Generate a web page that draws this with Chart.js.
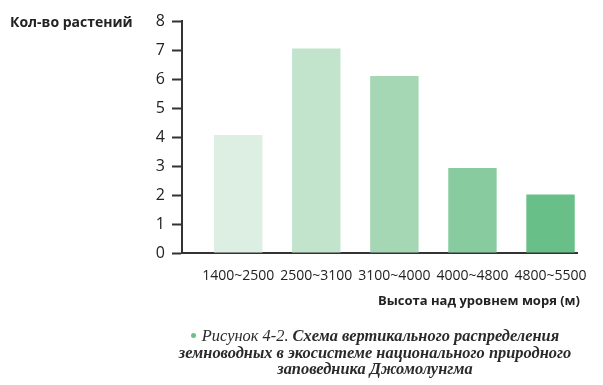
<!DOCTYPE html>
<html lang="ru">
<head>
<meta charset="UTF-8">
<title>Высота над уровнем моря</title>
<script src="https://cdn.jsdelivr.net/npm/chart.js"></script>
<style>
  body { margin: 0; background: #fff; }
  .wrap { position: relative; width: 603px; height: 385px; }
  #chart { position: absolute; left: 0; top: 0; }
  .caption {
    position: absolute; left: 175px; top: 328px; width: 400px;
    text-align: center; font-family: "Liberation Serif", serif; font-style: italic;
    font-size: 16.4px; line-height: 16.5px; color: #2a2a2a;
  }
  .caption b { font-weight: bold; }
  .dot { display: inline-block; width: 5px; height: 5px; border-radius: 50%; background: #6cbf8a; vertical-align: middle; margin-right: 6px; position: relative; top: -2px; }
</style>
</head>
<body>
<div class="wrap">
  <canvas id="chart" width="603" height="385"></canvas>
  <div class="caption"><span class="dot"></span>Рисунок 4-2. <b>Схема вертикального распределения земноводных в экосистеме национального природного заповедника Джомолунгма</b></div>
</div>
<script>
const heights = ['1400~2500', '2500~3100', '3100~4000', '4000~4800', '4800~5500'];
const plants = [4.07, 7.05, 6.1, 2.93, 2.02];
const barColors = ['#ddefe2', '#c2e4cd', '#a5d7b4', '#88cb9f', '#68bf87'];
const yTitle = 'Кол-во растений';
const xTitle = 'Высота над уровнем моря (м)';

const ink = '#333';
const sans = '"Open Sans", sans-serif';

// axis titles sit outside the scales, so draw them by hand
const titles = {
  id: 'titles',
  afterDraw(chart) {
    const c = chart.ctx;
    c.save();
    c.fillStyle = '#222';
    c.textBaseline = 'middle';
    c.font = 'bold 14px ' + sans;
    c.textAlign = 'left';
    c.fillText(yTitle, 10, 23);
    c.font = 'bold 13px ' + sans;
    c.textAlign = 'right';
    c.fillText(xTitle, 580, 301);
    c.restore();
  }
};

new Chart(document.getElementById('chart'), {
  type: 'bar',
  data: {
    datasets: [{
      data: plants.map((v, i) => ({ x: i, y: v })),
      backgroundColor: barColors,
      barPercentage: 0.62,
      categoryPercentage: 1
    }]
  },
  options: {
    responsive: false,
    animation: false,
    layout: { padding: { left: 0, right: 21, top: 21, bottom: 0 } },
    plugins: { legend: { display: false }, tooltip: { enabled: false } },
    scales: {
      x: {
        type: 'linear',
        offset: false,
        min: -0.72,
        max: 4.35,
        afterBuildTicks: s => { s.ticks = heights.map((h, i) => ({ value: i })); },
        afterFit: s => { s.height = 132; },
        grid: { offset: false, drawOnChartArea: false, drawTicks: false },
        border: { color: ink, width: 2 },
        ticks: {
          padding: 15,
          maxRotation: 0,
          autoSkip: false,
          color: '#222',
          font: { family: sans, size: 14 },
          callback: v => heights[v]
        }
      },
      y: {
        min: 0,
        max: 8,
        afterFit: s => { s.width = 182; },
        grid: { drawOnChartArea: false, tickLength: 10, tickColor: ink, tickWidth: 2 },
        border: { color: ink, width: 2 },
        ticks: {
          stepSize: 1,
          padding: 7,
          color: '#222',
          font: { family: sans, size: 16 }
        }
      }
    }
  },
  plugins: [titles]
});
</script>
</body>
</html>
